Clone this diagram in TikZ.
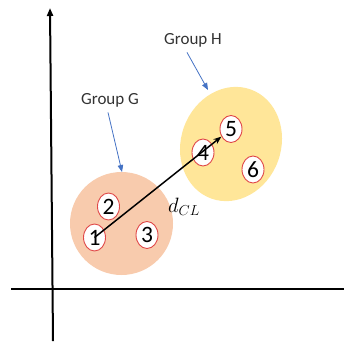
\documentclass[tikz,border=0pt]{standalone}
\usepackage{fontspec}
\setmainfont{Carlito}
\usetikzlibrary{arrows.meta}
\definecolor{gfill}{HTML}{F8CBAD}
\definecolor{hfill}{HTML}{FFE699}
\definecolor{nred}{HTML}{E04848}
\definecolor{lblue}{HTML}{4472C4}
\tikzset{
  pt/.style={ellipse,draw=nred,line width=0.9pt,fill=white,minimum width=22pt,minimum height=27pt,inner sep=0pt,font=\fontsize{23.5}{23.5}\selectfont},
  grouplabel/.style={font=\fontsize{17}{17}\selectfont,text=black!80},
  bluearrow/.style={draw=lblue,line width=0.8pt,-{Triangle[length=7pt,width=5.5pt]}},
  axis/.style={line width=2pt,black}
}
\usetikzlibrary{shapes.geometric}
\begin{document}
\begin{tikzpicture}[x=1pt,y=-1pt]
\useasboundingbox (0,0) rectangle (344,341);
% axes
\coordinate (yb) at (53,341);
\coordinate (yt) at (50,8);
\coordinate (xl) at (11,289);
\coordinate (xr) at (344,289);
\draw[axis,-{Triangle[length=8pt,width=6pt]}] (yb) -- (yt);
\draw[axis] (xl) -- (xr);
% groups
\fill[gfill] (121.5,223.5) circle [radius=51.5];
\fill[hfill,rotate around={-20:(231,144)}] (231,144) ellipse [x radius=50,y radius=58];
% points
\node[pt] (n1) at (94.5,237.5) {1};
\node[pt] (n2) at (108.5,206.5) {2};
\node[pt] (n3) at (147,235) {3};
\node[pt] (n4) at (203,152.5) {4};
\node[pt] (n5) at (231,129) {5};
\node[pt] (n6) at (253,169.5) {6};
% distance arrow
\draw[line width=1.5pt,-{Stealth[length=8pt,width=6pt]}] (n1.center) -- (n5);
\node (dcl) at (184,207) {\fontsize{20}{20}\selectfont$d_{CL}$};
% labels
\node[grouplabel] (lg) at (110,100) {Group G};
\node[grouplabel] (lh) at (193,40) {Group H};
\coordinate (gt) at (122,172);
\coordinate (ht) at (208,90);
\draw[bluearrow] (lg.south) ++(-2,2) -- (gt);
\draw[bluearrow] (lh.south) ++(-6,2) -- (ht);
\end{tikzpicture}
\end{document}
